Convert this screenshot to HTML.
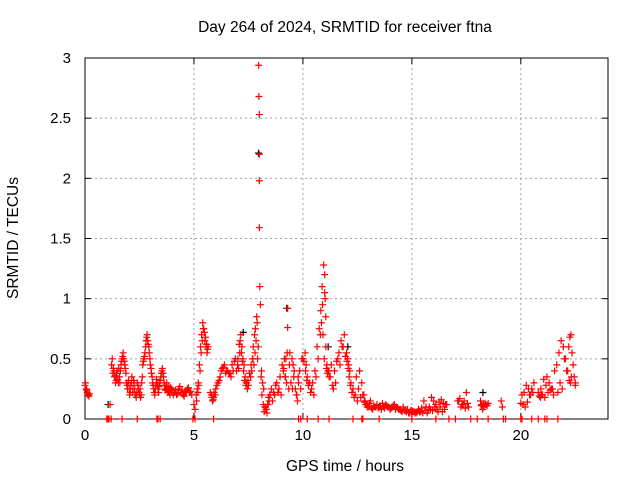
<!DOCTYPE html>
<html><head><meta charset="utf-8"><style>
body{margin:0;background:#fff}
svg{display:block;font-family:"Liberation Sans",sans-serif}
</style></head><body>
<svg id="chart" width="640" height="480">
<text x="345" y="32" text-anchor="middle" font-size="15.5">Day 264 of 2024, SRMTID for receiver ftna</text>
<text x="345" y="471" text-anchor="middle" font-size="15.5">GPS time / hours</text>
<text transform="translate(18,238) rotate(-90)" text-anchor="middle" font-size="15.5">SRMTID / TECUs</text>
<g id="grid"></g><g id="axes"></g><g id="marks"></g>
</svg>
<script>
const xTicks=[0,5,10,15,20];
const yTicks=[0,0.5,1,1.5,2,2.5,3];
const yTickLabels=["0","0.5","1","1.5","2","2.5","3"];
const redHours=[0,0.05,0.1,0.15,0.2,1.15,1.25,1.3,1.35,1.4,1.45,1.5,1.55,1.6,1.65,1.7,1.75,1.8,1.85,1.9,1.95,2.0,2.05,2.1,2.15,2.2,2.25,2.3,2.35,2.4,2.45,2.5,2.55,2.6,2.65,2.7,2.75,2.8,2.85,2.9,2.95,3.0,3.05,3.1,3.15,3.2,3.25,3.3,3.35,3.4,3.45,3.5,3.55,3.6,3.65,3.7,3.75,3.8,3.85,3.9,3.95,4.0,4.1,4.2,4.3,4.4,4.5,4.6,4.7,4.8,4.9,5.0,5.05,5.1,5.15,5.2,5.25,5.3,5.35,5.4,5.45,5.5,5.55,5.6,5.65,5.8,5.85,5.9,5.95,6.0,6.1,6.2,6.3,6.4,6.5,6.6,6.7,6.8,6.9,7.0,7.05,7.1,7.15,7.2,7.25,7.3,7.35,7.4,7.45,7.5,7.6,7.65,7.7,7.75,7.8,7.85,7.9,7.95,7.97,7.98,8.0,8.0,8.0,8.0,8.02,8.05,8.1,8.15,8.2,8.25,8.3,8.35,8.4,8.45,8.5,8.6,8.7,8.8,8.9,9.0,9.1,9.15,9.2,9.25,9.3,9.3,9.35,9.4,9.5,9.55,9.6,9.7,9.75,9.8,9.9,10.0,10.1,10.15,10.2,10.3,10.4,10.5,10.6,10.7,10.8,10.85,10.9,10.95,11.0,11.0,11.02,11.05,11.05,11.1,11.15,11.2,11.3,11.4,11.5,11.6,11.7,11.8,11.9,12.0,12.05,12.1,12.15,12.2,12.3,12.4,12.5,12.6,12.7,12.8,12.85,12.9,13.0,13.1,13.2,13.3,13.4,13.5,13.6,13.7,13.8,13.9,14.0,14.1,14.2,14.3,14.4,14.5,14.6,14.7,14.8,14.9,15.0,15.1,15.2,15.3,15.4,15.5,15.6,15.7,15.8,15.9,16.0,16.1,16.15,16.2,16.3,16.4,16.5,16.6,17.1,17.2,17.3,17.4,17.5,17.6,18.15,18.2,18.25,18.3,18.4,18.5,19.1,19.15,20.0,20.1,20.2,20.3,20.4,20.5,20.6,20.8,20.9,20.95,21.0,21.1,21.2,21.3,21.4,21.5,21.7,21.8,21.9,22.0,22.1,22.2,22.25,22.3,22.35,22.4,22.45,22.5,22.5,22.55,22.6,22.65,22.7];
const redValues=[0.28,0.25,0.22,0.2,0.21,0.12,0.5,0.42,0.35,0.3,0.38,0.33,0.42,0.3,0.45,0.5,0.55,0.48,0.42,0.3,0.25,0.32,0.2,0.28,0.35,0.25,0.3,0.2,0.18,0.3,0.25,0.2,0.18,0.3,0.45,0.5,0.55,0.65,0.7,0.62,0.55,0.45,0.38,0.3,0.25,0.2,0.28,0.3,0.25,0.27,0.32,0.38,0.42,0.35,0.28,0.25,0.3,0.22,0.27,0.2,0.25,0.24,0.22,0.2,0.25,0.22,0.2,0.23,0.25,0.22,0.2,0.12,0.08,0.2,0.25,0.3,0.45,0.6,0.7,0.8,0.75,0.65,0.6,0.55,0.6,0.2,0.15,0.18,0.2,0.25,0.3,0.35,0.42,0.45,0.4,0.38,0.35,0.4,0.5,0.45,0.42,0.55,0.7,0.6,0.5,0.45,0.35,0.3,0.25,0.28,0.35,0.4,0.5,0.45,0.55,0.65,0.8,0.6,2.94,2.68,2.53,2.2,1.98,1.59,1.1,0.95,0.4,0.3,0.25,0.1,0.08,0.05,0.12,0.15,0.2,0.15,0.2,0.3,0.25,0.2,0.4,0.5,0.35,0.3,0.92,0.76,0.25,0.55,0.5,0.45,0.4,0.2,0.15,0.3,0.25,0.5,0.55,0.45,0.35,0.3,0.25,0.2,0.35,0.5,0.7,0.8,0.95,1.28,1.2,1.05,1.0,0.85,0.6,0.45,0.4,0.35,0.45,0.25,0.3,0.5,0.45,0.6,0.7,0.55,0.5,0.45,0.4,0.3,0.25,0.2,0.15,0.4,0.3,0.2,0.15,0.12,0.1,0.15,0.08,0.1,0.12,0.1,0.08,0.1,0.12,0.1,0.08,0.1,0.12,0.1,0.08,0.07,0.1,0.07,0.08,0.05,0.07,0.06,0.05,0.08,0.06,0.05,0.07,0.05,0.1,0.18,0.15,0.12,0.08,0.06,0.1,0.06,0.08,0.12,0.15,0.17,0.12,0.15,0.22,0.1,0.15,0.12,0.08,0.1,0.12,0.13,0.15,0.1,0.13,0.12,0.1,0.14,0.2,0.25,0.3,0.22,0.18,0.2,0.2,0.18,0.35,0.3,0.25,0.2,0.22,0.3,0.25,0.5,0.4,0.6,0.68,0.7,0.55,0.45,0.35,0.3,0.28];
const redHours2=[0.02,0.08,0.12,0.18,1.22,1.28,1.33,1.38,1.43,1.48,1.53,1.58,1.63,1.68,1.73,1.78,1.83,1.88,1.93,1.98,2.03,2.08,2.13,2.18,2.23,2.28,2.33,2.38,2.43,2.48,2.53,2.58,2.63,2.68,2.73,2.78,2.83,2.88,2.93,2.98,3.03,3.08,3.13,3.18,3.23,3.28,3.33,3.38,3.43,3.48,3.53,3.58,3.63,3.68,3.73,3.78,3.83,3.88,3.93,3.98,4.05,4.15,4.25,4.35,4.45,4.55,4.65,4.75,4.85,5.12,5.18,5.22,5.28,5.33,5.38,5.43,5.48,5.53,5.58,5.62,5.75,5.82,5.88,5.92,5.98,6.05,6.15,6.25,6.35,6.45,6.55,6.65,6.75,6.85,6.95,7.02,7.08,7.12,7.18,7.22,7.28,7.32,7.38,7.42,7.48,7.55,7.62,7.68,7.72,7.78,7.82,7.88,7.92,8.08,8.12,8.18,8.22,8.28,8.32,8.38,8.42,8.48,8.55,8.65,8.75,8.85,8.95,9.05,9.12,9.18,9.22,9.28,9.38,9.45,9.52,9.58,9.65,9.72,9.78,9.85,9.95,10.05,10.12,10.18,10.25,10.35,10.45,10.55,10.65,10.75,10.82,10.88,10.92,10.98,11.08,11.12,11.18,11.25,11.35,11.45,11.55,11.65,11.75,11.85,11.95,12.02,12.08,12.12,12.18,12.25,12.35,12.45,12.55,12.65,12.75,12.82,12.88,12.95,13.05,13.15,13.25,13.35,13.45,13.55,13.65,13.75,13.85,13.95,14.05,14.15,14.25,14.35,14.45,14.55,14.65,14.75,14.85,14.95,15.05,15.15,15.25,15.35,15.45,15.55,15.65,15.75,15.85,15.95,16.05,16.25,16.35,16.45,16.55,17.15,17.25,17.35,17.45,17.55,18.18,18.28,18.35,18.45,20.05,20.15,20.25,20.35,20.45,20.55,20.85,20.92,21.05,21.15,21.25,21.35,21.45,21.55,21.65,21.75,21.85,21.95,22.05,22.15,22.22,22.28,22.32,22.38,22.42,22.48,22.52,22.58,22.62,22.68,22.75];
const redValues2=[0.3,0.24,0.2,0.19,0.45,0.38,0.4,0.36,0.32,0.4,0.3,0.35,0.4,0.48,0.52,0.5,0.45,0.38,0.28,0.3,0.25,0.22,0.3,0.22,0.32,0.25,0.2,0.22,0.28,0.22,0.25,0.2,0.35,0.48,0.52,0.6,0.68,0.65,0.6,0.5,0.42,0.35,0.28,0.22,0.25,0.33,0.28,0.22,0.3,0.35,0.4,0.38,0.3,0.24,0.28,0.25,0.23,0.22,0.26,0.22,0.2,0.24,0.21,0.27,0.24,0.19,0.22,0.26,0.23,0.15,0.22,0.28,0.4,0.55,0.65,0.75,0.72,0.68,0.62,0.58,0.22,0.18,0.16,0.22,0.2,0.28,0.32,0.4,0.43,0.38,0.4,0.38,0.45,0.48,0.4,0.5,0.62,0.65,0.55,0.48,0.4,0.32,0.28,0.3,0.32,0.38,0.45,0.5,0.6,0.7,0.75,0.85,0.5,0.35,0.2,0.12,0.06,0.1,0.08,0.12,0.18,0.2,0.25,0.22,0.28,0.22,0.35,0.45,0.42,0.35,0.5,0.55,0.45,0.3,0.25,0.35,0.25,0.2,0.35,0.4,0.5,0.48,0.4,0.32,0.28,0.22,0.3,0.4,0.6,0.75,0.9,1.1,0.7,0.5,0.42,0.38,0.4,0.35,0.28,0.4,0.48,0.55,0.65,0.6,0.52,0.48,0.42,0.35,0.28,0.22,0.18,0.35,0.25,0.18,0.2,0.14,0.12,0.1,0.13,0.09,0.11,0.1,0.09,0.11,0.13,0.09,0.11,0.1,0.09,0.11,0.08,0.09,0.08,0.06,0.07,0.06,0.05,0.07,0.06,0.05,0.06,0.06,0.09,0.15,0.1,0.07,0.08,0.07,0.1,0.14,0.16,0.13,0.12,0.15,0.1,0.12,0.09,0.13,0.11,0.12,0.13,0.11,0.2,0.22,0.28,0.25,0.2,0.22,0.19,0.25,0.33,0.28,0.22,0.24,0.25,0.4,0.45,0.55,0.65,0.6,0.5,0.4,0.32,0.3,0.35];
const blackHours=[1.1,7.3,8.0,9.3,11.2,12.1,18.3];
const blackValues=[0.12,0.72,2.21,0.92,0.6,0.6,0.22];
const zeroHours=[1.0,1.05,1.1,1.2,1.7,2.4,3.3,3.35,3.45,4.95,5.05,5.9,9.8,9.9,10.2,10.7,11.2,12.3,12.7,12.75,13.5,15.0,16.1,16.7,17.0,17.7,18.0,18.5,19.2,19.3,20.0,20.05,20.5,20.8,21.1,21.2,21.7];
const X0=85,X1=608,Y0=419,Y1=58;
const xs=h=>X0+(h/24)*(X1-X0);
const ys=v=>Y0-(v/3)*(Y0-Y1);
const NS="http://www.w3.org/2000/svg";
function mk(t,a,p){const e=document.createElementNS(NS,t);for(const k in a)e.setAttribute(k,a[k]);p.appendChild(e);return e;}
const grid=document.getElementById('grid'),axes=document.getElementById('axes'),marks=document.getElementById('marks');
xTicks.forEach(t=>{const x=xs(t);
 if(t>0){const g=mk('line',{x1:x,x2:x,y1:Y1,y2:Y0,stroke:'#a0a0a0','stroke-dasharray':'2,3'},grid);}
 mk('line',{x1:x,x2:x,y1:Y0,y2:Y0-6,stroke:'#000'},axes);mk('line',{x1:x,x2:x,y1:Y1,y2:Y1+6,stroke:'#000'},axes);
 const l=mk('text',{x:x,y:Y0+21,'text-anchor':'middle','font-size':15},axes);l.textContent=t;
 });
yTicks.forEach((t,i)=>{const y=ys(t);
 if(t>0&&t<3){const g=mk('line',{x1:X0,x2:X1,y1:y,y2:y,stroke:'#a0a0a0','stroke-dasharray':'2,3'},grid);}
 mk('line',{x1:X0,x2:X0+6,y1:y,y2:y,stroke:'#000'},axes);mk('line',{x1:X1,x2:X1-6,y1:y,y2:y,stroke:'#000'},axes);
 const l=mk('text',{x:X0-14,y:y+5,'text-anchor':'end','font-size':15},axes);l.textContent=yTickLabels[i];
 });
const fr=mk('rect',{x:X0,y:Y1,width:X1-X0,height:Y0-Y1,fill:'none',stroke:'#000'},axes);

function plus(h,v,c){const x=xs(h),y=ys(v);
 const p=mk('path',{d:`M${x-3.5},${y}H${x+3.5}M${x},${y-3.5}V${y+3.5}`,stroke:c,'stroke-width':1.2,fill:'none'},marks);
 }
blackHours.forEach((h,i)=>plus(h-0.04,blackValues[i],'#000'));
redHours.forEach((h,i)=>plus(h,redValues[i],'#ff0000'));
redHours2.forEach((h,i)=>plus(h,redValues2[i],'#ff0000'));
zeroHours.forEach(h=>plus(h,0,'#ff0000'));
</script>
</body></html>
